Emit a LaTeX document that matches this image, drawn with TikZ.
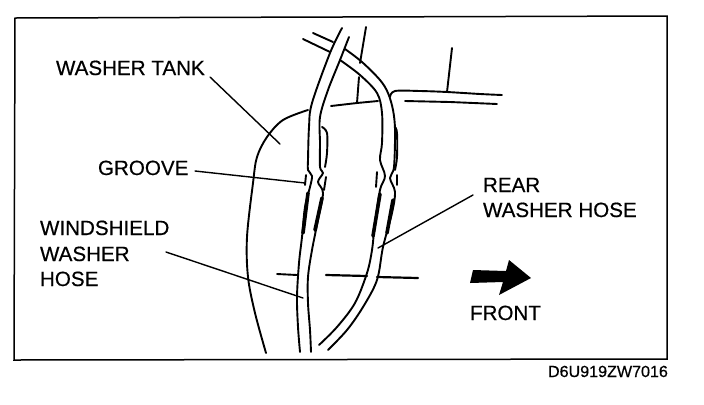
\documentclass[tikz,border=0pt]{standalone}
\usepackage{fontspec}
\setmainfont{Liberation Sans}
\newfontfamily\lblfont[FakeBold=0.5]{Liberation Sans}
\tikzset{
  every picture/.style={x=1bp,y=-1bp},
  lbl/.style={anchor=base west,inner sep=0pt,outer sep=0pt,font=\lblfont\fontsize{20.6bp}{20.6bp}\selectfont},
  code/.style={anchor=base west,inner sep=0pt,outer sep=0pt,font=\lblfont\fontsize{16.1bp}{16.1bp}\selectfont},
  ln/.style={line width=1.9bp,black,line cap=round,line join=round},
  hose/.style={ln,smooth,tension=0.55},
  thick part/.style={line width=3.6bp,black,line cap=round},
  leader/.style={line width=1.4bp,black,line cap=round},
  frame/.style={line width=1.5bp,black}
}
\begin{document}
\begin{tikzpicture}
\useasboundingbox (0,0) rectangle (704,404);
\fill[white] (0,0) rectangle (704,404);
\draw[frame] (15,18) -- (667,16) -- (667,359) -- (14,360) -- cycle;
% labels
\node[lbl] (tank) at (56,75) {WASHER TANK};
\node[lbl] (groove) at (98,175) {GROOVE};
\node[lbl] (wind1) at (40,235) {WINDSHIELD};
\node[lbl] (wind2) at (40,261) {WASHER};
\node[lbl] (wind3) at (40,286) {HOSE};
\node[lbl] (rear1) at (483,192) {REAR};
\node[lbl] (rear2) at (483,217) {WASHER HOSE};
\node[lbl] (front) at (470,320) {FRONT};
\node[code] (codeid) at (548,377) {D6U919ZW7016};
% tank outline
\draw[hose] plot coordinates {(308,110) (283,120) (267,137) (257,157) (253,183) (247,237) (248,277) (255,313) (266,353)};
\draw[ln] (331,106) -- (357,103) -- (378,101);
% background lines
\draw[ln] (366,27) -- (360,63);
\draw[ln] (359,77) -- (357,103);
\draw[ln] (452,48) -- (447,92);
\draw[hose] plot coordinates {(390,97) (395,91) (420,91) (447,92) (480,94) (502,95)};
\draw[ln] (405,101) -- (450,102) -- (497,104);
\draw[ln] (277,274) -- (297,275);
\draw[ln,line width=2.2bp] (326,275) -- (367,276);
\draw[ln,line width=2.2bp] (377,277) -- (418,278);
% rear washer hose
\draw[ln] (313,33) -- (333,42);
\draw[ln] (303,39) -- (330,52);
\draw[hose] plot coordinates {(345,49) (362,62) (380,80) (388,93) (393,110) (395,130) (394,167) (390,178) (395,192) (392,213) (383,247) (377,280) (363,307) (347,330) (328,350)};
\draw[hose] plot coordinates {(340,60) (360,75) (377,93) (382,113) (382,143) (380,160) (385,176) (380,190) (375,223) (372,250) (367,273) (355,303) (337,327) (319,345)};
\draw[thick part] (380,194) -- (373,236);
\draw[thick part] (393,200) -- (387,233);
\draw[hose] plot coordinates {(395,127) (397,133) (397,157) (395,170)};
\draw[ln] (377,172) -- (376,187);
\draw[ln] (397,175) -- (397,185);
% windshield washer hose
\draw[hose] plot coordinates {(342,28) (330,53) (312,103) (309,127) (308,160) (308,170) (312,176) (310,187) (305,207) (302,237) (299,263) (297,297) (298,327) (300,352)};
\draw[hose] plot coordinates {(349,37) (340,60) (328,90) (320,117) (320,143) (320,167) (323,173) (318,182) (323,193) (318,220) (312,250) (308,277) (308,303) (310,330) (311,352)};
\draw[thick part] (308,193) -- (303,233);
\draw[thick part] (322,198) -- (315,230);
\draw[hose] plot coordinates {(322,127) (327,133) (327,153) (325,167)};
\draw[ln] (306,175) -- (305,185);
\draw[ln] (326,177) -- (324,190);
% leaders
\coordinate (tankA) at (210,77);
\coordinate (tankB) at (280,144);
\coordinate (grooveA) at (195,171);
\coordinate (grooveB) at (305,183);
\coordinate (windA) at (166,252);
\coordinate (windB) at (303,298);
\coordinate (rearA) at (473,195);
\coordinate (rearB) at (378,248);
\draw[leader] (tankA) -- (tankB);
\draw[leader] (grooveA) -- (grooveB);
\draw[leader] (windA) -- (windB);
\draw[leader] (rearA) -- (rearB);
% front arrow
\fill[black] (473,270) -- (506,271) -- (509,260) -- (531,278) -- (499,295) -- (503,282) -- (470,283) -- cycle;
\end{tikzpicture}
\end{document}
